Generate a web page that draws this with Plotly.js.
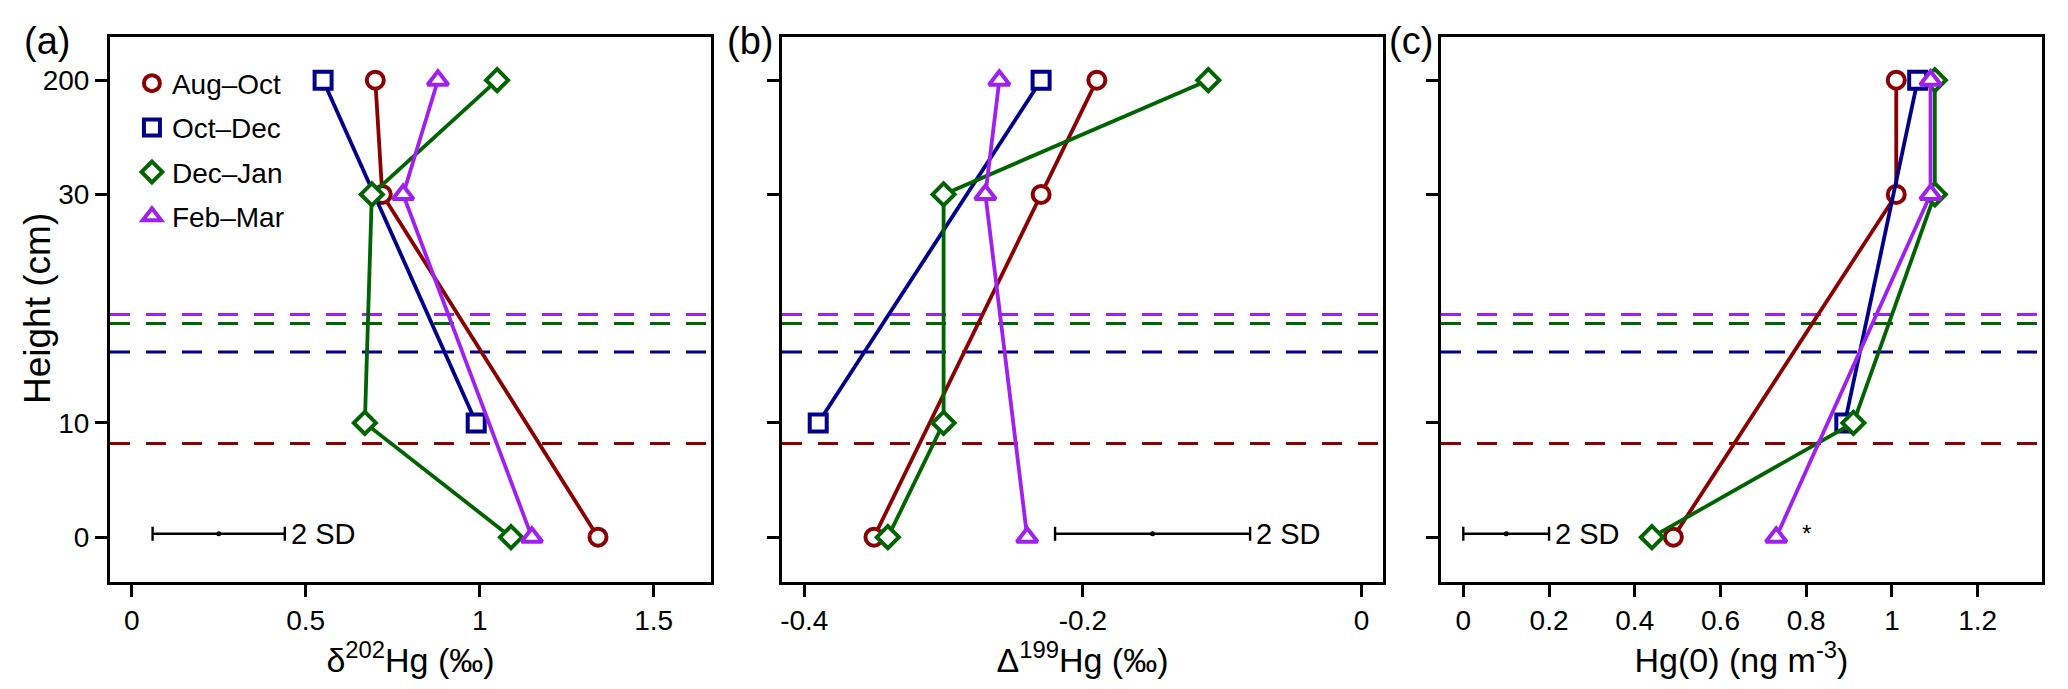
<!DOCTYPE html>
<html>
<head>
<meta charset="utf-8">
<script src="https://cdn.plot.ly/plotly-3.0.1.min.js"></script>
<style>html,body{margin:0;padding:0;background:#fff}#chart{width:2068px;height:689px}</style>
</head>
<body>
<div id="chart"></div>
<script>
// ---------------- data ----------------
const heights = [0, 10, 30, 200];                 // sampling heights (cm)
const heightTickLabels = ['0', '10', '30', '200'];
const seasons = ['Aug\u2013Oct', 'Oct\u2013Dec', 'Dec\u2013Jan', 'Feb\u2013Mar'];
const seasonColors = ['#8B0000', '#00008B', '#006400', '#A020F0'];
const seasonSymbols = ['circle', 'square', 'diamond', 'triangle-up'];
const snowDepth = [8.2, 16.2, 18.7, 19.5];        // dashed lines (cm), one per season

// panel (a) delta202Hg (permil), values at heights 0,10,30,200
const d202_AugOct = [1.34, null, 0.72, 0.70];
const d202_OctDec = [null, 0.99, null, 0.55];
const d202_DecJan = [1.09, 0.67, 0.69, 1.05];
const d202_FebMar = [1.15, null, 0.78, 0.88];

// panel (b) Delta199Hg (permil)
const D199_AugOct = [-0.35, null, -0.23, -0.19];
const D199_OctDec = [null, -0.39, null, -0.23];
const D199_DecJan = [-0.34, -0.30, -0.30, -0.11];
const D199_FebMar = [-0.24, null, -0.27, -0.26];

// panel (c) Hg(0) (ng m-3)
const hg0_AugOct = [0.49, null, 1.01, 1.01];
const hg0_OctDec = [null, 0.89, null, 1.06];
const hg0_DecJan = [0.44, 0.91, 1.10, 1.10];
const hg0_FebMar = [0.73, null, 1.09, 1.09];

// 2 SD reference bars: centre and half width per panel
const sdCenter = [0.25, -0.15, 0.10];
const sdHalf = [0.19, 0.07, 0.10];

const xTickVals = [[0, 0.5, 1, 1.5], [-0.4, -0.2, 0], [0, 0.2, 0.4, 0.6, 0.8, 1, 1.2]];
const xTickText = [['0', '0.5', '1', '1.5'], ['-0.4', '-0.2', '0'], ['0', '0.2', '0.4', '0.6', '0.8', '1', '1.2']];
const xTitles = ['\u03B4<sup>202</sup>Hg (\u2030)', '\u0394<sup>199</sup>Hg (\u2030)', 'Hg(0) (ng m<sup>-3</sup>)'];
const yTitle = 'Height (cm)';
const panelLabels = ['(a)', '(b)', '(c)'];

// ---------------- piecewise height scale ----------------
function hpos(h) {
  if (h <= 10) return h / 10;
  if (h <= 30) return 1 + (h - 10) / 10;
  return 3 + (h - 30) / 170;
}
const yPos = heights.map(hpos);

const panels = [
  [d202_AugOct, d202_OctDec, d202_DecJan, d202_FebMar],
  [D199_AugOct, D199_OctDec, D199_DecJan, D199_FebMar],
  [hg0_AugOct, hg0_OctDec, hg0_DecJan, hg0_FebMar]
];

const FONT = 'Liberation Sans, Arial, sans-serif';
const traces = [];
panels.forEach((series, p) => {
  const ax = p === 0 ? '' : String(p + 1);
  series.forEach((vals, s) => {
    traces.push({
      type: 'scatter', mode: 'lines+markers',
      x: vals, y: yPos, connectgaps: true,
      xaxis: 'x' + ax, yaxis: 'y' + ax,
      line: {color: seasonColors[s], width: 3.8},
      marker: {symbol: seasonSymbols[s], size: s === 3 ? 18 : 17, color: 'white',
               line: {color: seasonColors[s], width: 4}},
      showlegend: false, hoverinfo: 'x+y'
    });
  });
  // 2 SD bar
  traces.push({
    type: 'scatter', mode: 'markers',
    x: [sdCenter[p]], y: [hpos(0.3)],
    xaxis: 'x' + ax, yaxis: 'y' + ax,
    marker: {size: 5, color: 'black'},
    error_x: {type: 'data', array: [sdHalf[p]], color: 'black', thickness: 2.4, width: 7},
    showlegend: false, hoverinfo: 'skip'
  });
});
// legend entries
seasons.forEach((name, s) => {
  traces.push({
    type: 'scatter', mode: 'markers', x: [null], y: [null], name: name,
    legendgroup: 'g' + s,
    marker: {symbol: seasonSymbols[s], size: 16, color: 'white',
             line: {color: seasonColors[s], width: 4}}
  });
});

const W = 2068, H = 689;
const xDomains = [[110 / W, 711 / W], [782 / W, 1383 / W], [1441 / W, 2042 / W]];
const yDomain = [1 - 581.5 / H, 1 - 37 / H];
const xRanges = [[-0.0624, 1.6647], [-0.416, 0.0154], [-0.052, 1.350]];
const yRange = [-0.388, 4.378];

const layout = {
  width: W, height: H,
  margin: {l: 0, r: 0, t: 0, b: 0},
  paper_bgcolor: 'white', plot_bgcolor: 'white',
  font: {family: FONT, color: 'black'},
  showlegend: true,
  legend: {
    x: 0.0638, y: 0.9152, xanchor: 'left', yanchor: 'top',
    bgcolor: 'rgba(0,0,0,0)', borderwidth: 0,
    font: {family: FONT, size: 28, color: 'black'},
    tracegroupgap: 5, itemwidth: 30
  },
  shapes: [], annotations: []
};

for (let p = 0; p < 3; p++) {
  const ax = p === 0 ? '' : String(p + 1);
  layout['xaxis' + ax] = {
    domain: xDomains[p], range: xRanges[p], anchor: 'y' + ax,
    showline: true, mirror: true, linecolor: 'black', linewidth: 3,
    ticks: 'outside', ticklen: 12, tickwidth: 3, tickcolor: 'black',
    showgrid: false, zeroline: false,
    tickmode: 'array', tickvals: xTickVals[p], ticktext: xTickText[p],
    tickfont: {family: FONT, size: 28, color: 'black'},
    title: {text: xTitles[p], font: {family: FONT, size: 34, color: 'black'}, standoff: 5}
  };
  layout['yaxis' + ax] = {
    domain: yDomain, range: yRange, anchor: 'x' + ax,
    showline: true, mirror: true, linecolor: 'black', linewidth: 3,
    ticks: 'outside', ticklen: 12, tickwidth: 3, tickcolor: 'black',
    showgrid: false, zeroline: false,
    tickmode: 'array', tickvals: yPos, ticktext: heightTickLabels,
    showticklabels: p === 0,
    tickfont: {family: FONT, size: 28, color: 'black'}
  };
  snowDepth.forEach((d, s) => {
    layout.shapes.push({
      type: 'line', xref: 'x' + ax + ' domain', yref: 'y' + ax,
      x0: 0, x1: 1, y0: hpos(d), y1: hpos(d), layer: 'below',
      line: {color: seasonColors[s], width: 3, dash: '20px,16px'}
    });
  });
  layout.annotations.push({
    xref: 'x' + ax, yref: 'y' + ax, x: sdCenter[p] + sdHalf[p], y: hpos(0.3),
    xanchor: 'left', yanchor: 'middle', xshift: 4, showarrow: false,
    text: '2 SD', font: {family: FONT, size: 29, color: 'black'}
  });
  layout.annotations.push({
    xref: 'paper', yref: 'paper', x: [47, 750, 1411][p] / W, y: 1 - 41 / H,
    xanchor: 'center', yanchor: 'middle', showarrow: false,
    text: panelLabels[p], font: {family: FONT, size: 38, color: 'black'}
  });
}
// y axis title (placed as rotated annotation beside the first panel)
layout.annotations.push({
  xref: 'paper', yref: 'paper', x: 37.5 / W, y: 1 - 308.5 / H,
  xanchor: 'center', yanchor: 'middle', textangle: -90, showarrow: false,
  text: yTitle, font: {family: FONT, size: 37, color: 'black'}
});
layout.annotations.push({
  xref: 'x3', yref: 'y3', x: 0.80, y: hpos(0.3), xanchor: 'center', yanchor: 'middle',
  showarrow: false, text: '*', font: {family: FONT, size: 24, color: 'black'}
});

Plotly.newPlot('chart', traces, layout, {displayModeBar: false, staticPlot: true});
</script>
</body>
</html>
